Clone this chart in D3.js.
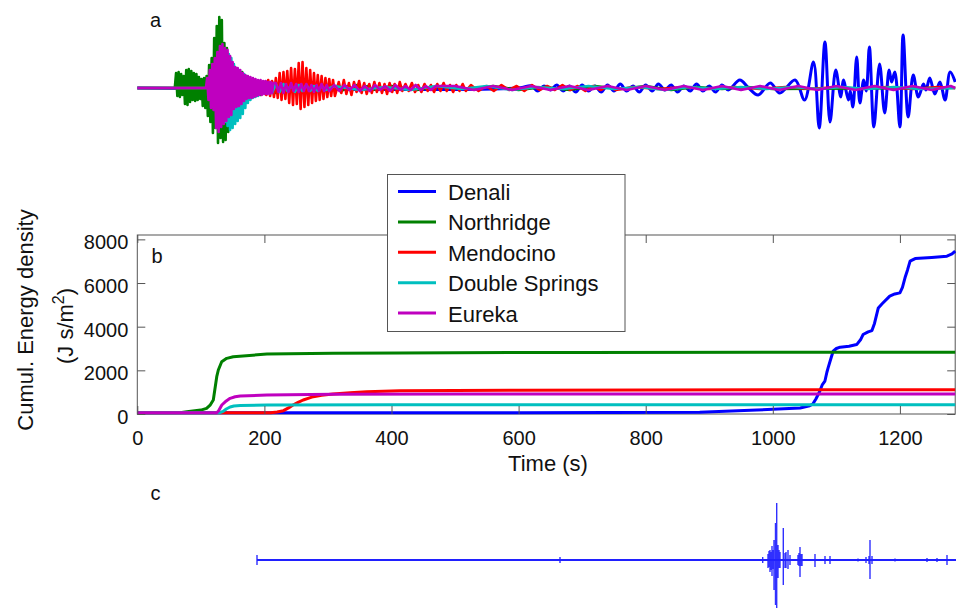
<!DOCTYPE html>
<html><head><meta charset="utf-8">
<script src="https://cdn.jsdelivr.net/npm/d3@7"></script>
<style>body{margin:0;background:#fff}svg{display:block;font-family:"Liberation Sans",Arial,Helvetica,sans-serif}</style>
</head><body><svg id="chart" width="956" height="608"></svg>
<script>
// ---------- data ----------
const seriesNames = ["Denali", "Northridge", "Mendocino", "Double Springs", "Eureka"];
const seriesColors = ["#0000ff", "#008000", "#ff0000", "#00bfbf", "#bf00bf"];
const xTicks = [0, 200, 400, 600, 800, 1000, 1200];
const yTicks = [0, 2000, 4000, 6000, 8000];
const timeMax = 1287;
const energyMax = 8200;

// panel b: cumulative energy density [time s, J s/m^2]
const denaliEnergy = [[0,60],[600,60],[885,80],[975,180],[1000,220],[1043,275],[1058,380],[1063,460],[1068,700],[1074,1050],[1078,1350],[1082,1510],[1085,1900],[1087,2110],[1092,2600],[1095,2875],[1100,3000],[1106,3060],[1120,3100],[1132,3180],[1138,3400],[1142,3640],[1150,3760],[1156,3820],[1160,4150],[1166,4860],[1172,5050],[1184,5400],[1192,5500],[1200,5550],[1204,5800],[1208,6240],[1212,6600],[1216,7000],[1224,7120],[1250,7170],[1274,7230],[1282,7330],[1287,7460]];
const northridgeEnergy = [[0,60],[70,70],[78,107],[100,180],[109,260],[115,420],[119.6,641],[125,1710],[127.5,2015],[132.8,2395],[140.7,2550],[151,2625],[204,2747],[308,2780],[413,2800],[700,2820],[1000,2830],[1287,2830]];
const mendocinoEnergy = [[0,60],[210,60],[220,90],[230,153],[238,280],[245,412],[253,530],[261,641],[270,730],[277,794],[290,860],[308,916],[335,975],[361,1021],[413,1060],[600,1090],[800,1105],[1287,1115]];
const doubleSpringsEnergy = [[0,60],[130,60],[135,120],[140,230],[146,320],[152,365],[162,385],[204,410],[400,420],[1287,428]];
const eurekaEnergy = [[0,60],[125,60],[128,150],[133,412],[140,600],[146,718],[154,790],[162,824],[204,870],[308,900],[500,915],[1287,920]];

// panel a: seismograms. Entries are either [t, amp] or [t0, dt, [amps...]]
const denaliWave = [[0,0],[600,0],
  [620, 10, [2,-3,2,-2,3,-3,2,-4,3,-3,2,-4,3,-3,4,-3,2,-4,3,-3,4,-2,3,-4,2,-3,4,-3,2,-4,3,-2]],
  [948,8],[962,0],[977,-7],[996,5],[1011,-5],[1035,8],[1050,-12],[1064,26],[1073,-40],[1082,46],[1090,-34],[1099,18],[1107,-9],[1111,8],[1119,-12],[1122,-3],[1126,-19],[1132,31],[1137,-15],[1143,8],[1147,-3],[1152,41],[1159,-39],[1168,24],[1176,-25],[1183,18],[1187,6],[1192,16],[1200,-39],[1205,53],[1213,-29],[1221,13],[1229,-9],[1237,4],[1241,-2],[1247,10],[1255,-6],[1263,6],[1271,-12],[1279,16],[1287,6]];
const northridgeWave = [[0,0],[59,0],
  [61, 2, [15,-8,16,-9,14,-7,12,-16,18,-17,19,-14,17,-12,15,-13,14,-12,11,-11,9,-18,10,-20,12,-28,23,-34,30,-45,50,-40,62,-55,71,-50,68,-54,45,-52,40,-44,20,-25,18,-22,19,-24,17,-19,15,-18,16,-17,12,-14,10,-12,9,-8]],
  [182, 4, [7,-6,6,-7,5,-5,6,-4,5,-5,4,-4,5,-3,4,-4]],
  [250, 8, [3,-3,2,-3,3,-2,3,-2,2,-3,2,-2,3,-2,2,-2]],
  [400, 40, [2,-2,2,-1,2,-2,1,-2,2,-1,2,-2,1,-1,1,-1]],
  [1287,0]];
const mendocinoWave = [[0,0],[185,0],
  [188, 3, [3,-4,4,-5,6,-7,8,-8,7,-9,10,-10,15,-12,16,-11,17,-15,20,-17,19,-16,25,-21,26,-19,20,-17,18,-15,15,-13,13,-12,12,-11,10,-9,9,-8,8,-8]],
  [317, 4, [6,-5,8,-6,5,-7,6,-4,7,-5,5,-6,4,-5,6,-4,5,-5,4,-6,5,-4,4,-5,6,-3]],
  [422, 5, [4,-3,5,-4,3,-4,4,-3,3,-4,4,-3,5,-3,3,-4,3,-3,4,-3]],
  [525, 12, [3,-3,2,-3,3,-2,2,-3,3,-2,2,-2,3,-2,2,-3,2,-2,2,-2]],
  [780, 40, [1,-1,1,-1,1,-1,1,-1,1,-1,1,-1,1]],
  [1287,0]];
const doubleSpringsWave = [[0,0],[125,0],
  [128, 2, [8,-12,20,-26,30,-34,32,-38,34,-42,30,-40,24,-36,20,-33,18,-30,15,-26,14,-20,12,-15,10,-12,9,-10,8,-9,7,-8]],
  [194, 6, [6,-5,5,-5,4,-4,4,-3,3,-4,3,-3,3,-3,2,-3,2,-2]],
  [310, 40, [2,-2,1,-2,2,-1,2,-2,1,-1,2,-1,1,-2,1,-1,1,-1,1,-1,1,-1,1,-1]],
  [1287,0]];
const eurekaWave = [[0,0],[108,0],
  [110, 2, [10,-12,18,-20,24,-22,30,-40,36,-44,42,-39,44,-36,40,-33,38,-29,32,-27,26,-21,21,-19,20,-18,18,-16,15,-13,13,-11,12,-10,11,-10,10,-9,9,-8,8,-7,8,-7,7,-6,7,-6,6,-6,6,-5,5]],
  [218, 4, [5,-4,5,-5,4,-4,5,-3,4,-4,4,-3,4,-3,3,-4,3,-3,4,-3,3,-3]],
  [310, 8, [3,-3,3,-2,3,-3,2,-3,3,-2,2,-3,3,-2,2,-2,3,-2,2,-2,2]],
  [500, 30, [2,-2,2,-2,2,-2,2,-2,2,-2,2,-2,2,-2,2,-2,2,-2,2,-2,2,-2,2,-2,2,-2,2]],
  [1287,0]];

// panel c: long Denali record, spikes as [position, up, down]
const denaliLongSpikes = [[0,5,5],[303,3,3],[505.7,3,3],[511,6,8],[512,9,7],[513,10,12],[514,8,10],[515,14,16],[516,10,9],[517,20,30],[518.5,37,45],[519.7,57,50],[521,15,18],[522,10,8],[523,8,8],[526.3,32,25],[528,7,8],[529,8,8],[531,10,9],[533,5,5],[541,5,5],[542,7,6],[543,13,17],[544,6,6],[545,6,6],[558,6,7],[568,4,4],[573,4,4],[601,1.5,1.5],[609,3,3],[612,4,4],[613,20,19],[615,4,4],[638,1.5,1.5],[670,2,2],[680,2,2],[690,5,5]];
const denaliLongEnd = 700;

// ---------- drawing ----------
const energySeries = [denaliEnergy, northridgeEnergy, mendocinoEnergy, doubleSpringsEnergy, eurekaEnergy];
const waveSeries = [denaliWave, northridgeWave, mendocinoWave, doubleSpringsWave, eurekaWave];

function expand(entries) {
  const out = [];
  entries.forEach(e => {
    if (e.length === 3 && Array.isArray(e[2])) e[2].forEach((v, i) => out.push([e[0] + i * e[1], v]));
    else out.push(e);
  });
  return out;
}

const svg = d3.select("#chart");
svg.append("rect").attr("width", 956).attr("height", 608).attr("fill", "#fff");

const L = 137.3, R = 955.2, T = 235, B = 414;
const x = d3.scaleLinear().domain([0, timeMax]).range([L, R]);
const yE = d3.scaleLinear().domain([0, energyMax]).range([B, T]);
const yA = d3.scaleLinear().domain([-80, 80]).range([168, 8]);
const xC = d3.scaleLinear().domain([0, 700]).range([257, 957]);
const yC = d3.scaleLinear().domain([-60, 60]).range([620, 500]);

const txt = "#111";
// panel labels
svg.append("text").attr("x", 150).attr("y", 27).attr("font-size", 20).attr("fill", txt).text("a");
svg.append("text").attr("x", 151.5).attr("y", 263).attr("font-size", 20).attr("fill", txt).text("b");
svg.append("text").attr("x", 150.5).attr("y", 500).attr("font-size", 20).attr("fill", txt).text("c");

// panel a
const gA = svg.append("g");
waveSeries.forEach((w, i) => {
  const ln = d3.line().x(d => x(d[0])).y(d => yA(d[1])).curve(i === 0 ? d3.curveCatmullRom : d3.curveLinear);
  gA.append("path").attr("d", ln(expand(w)))
    .attr("fill", "none").attr("stroke", seriesColors[i]).attr("stroke-width", i === 0 ? 3 : 2.6).attr("stroke-linejoin", "round");
});

// panel b axes box
const gB = svg.append("g");
const axColor = "#555";
gB.append("rect").attr("x", L).attr("y", T).attr("width", R - L).attr("height", B - T)
  .attr("fill", "none").attr("stroke", axColor).attr("stroke-width", 1);

const energyLine = d3.line().x(d => x(d[0])).y(d => yE(d[1]));
energySeries.forEach((s, i) => {
  gB.append("path").attr("d", energyLine(s)).attr("fill", "none")
    .attr("stroke", seriesColors[i]).attr("stroke-width", 3).attr("stroke-linejoin", "round");
});

// axes with inward ticks on all four sides
const axB = gB.append("g").attr("transform", `translate(0,${B})`)
  .call(d3.axisBottom(x).tickValues(xTicks).tickSizeInner(-8).tickSizeOuter(0).tickFormat(d3.format("d")));
const axT = gB.append("g").attr("transform", `translate(0,${T})`)
  .call(d3.axisTop(x).tickValues(xTicks).tickSizeInner(-8).tickSizeOuter(0).tickFormat(""));
const axL = gB.append("g").attr("transform", `translate(${L},0)`)
  .call(d3.axisLeft(yE).tickValues(yTicks).tickSizeInner(-8).tickSizeOuter(0).tickPadding(9).tickFormat(d3.format("d")));
const axR = gB.append("g").attr("transform", `translate(${R},0)`)
  .call(d3.axisRight(yE).tickValues(yTicks).tickSizeInner(-8).tickSizeOuter(0).tickFormat(""));
[axB, axT, axL, axR].forEach(a => {
  a.select(".domain").remove();
  a.selectAll(".tick line").attr("stroke", axColor);
  a.selectAll("text").attr("font-size", 20).attr("fill", txt).attr("font-family", "Liberation Sans, Arial, sans-serif");
});
axB.selectAll("text").attr("dy", null).attr("y", 31);
axL.selectAll("text").attr("dy", null).attr("y", 9.5);

// axis labels
svg.append("text").attr("x", 548).attr("y", 471).attr("text-anchor", "middle").attr("font-size", 22).attr("fill", txt).text("Time (s)");
svg.append("text").attr("transform", "translate(33,320) rotate(-90)").attr("text-anchor", "middle")
  .attr("font-size", 22).attr("fill", txt).text("Cumul. Energy density");
const yl2 = svg.append("text").attr("transform", "translate(73,326) rotate(-90)").attr("text-anchor", "middle")
  .attr("font-size", 22).attr("fill", txt);
yl2.append("tspan").text("(J s/m");
yl2.append("tspan").attr("dy", -9).attr("font-size", 16).text("2");
yl2.append("tspan").attr("dy", 9).text(")");

// legend
const lg = svg.append("g");
lg.append("rect").attr("x", 387.5).attr("y", 174.5).attr("width", 237.5).attr("height", 157)
  .attr("fill", "#fff").attr("stroke", "#555").attr("stroke-width", 1);
seriesNames.forEach((n, i) => {
  const yy = 191.5 + i * 30.4;
  lg.append("line").attr("x1", 398).attr("x2", 436).attr("y1", yy).attr("y2", yy)
    .attr("stroke", seriesColors[i]).attr("stroke-width", 3);
  lg.append("text").attr("x", 448).attr("y", yy + 8.5).attr("font-size", 22).attr("fill", txt).text(n);
});

// panel c: baseline with vertical spikes
const cPts = [];
denaliLongSpikes.forEach(s => { cPts.push([s[0], 0], [s[0], s[1]], [s[0], -s[2]], [s[0], 0]); });
cPts.push([denaliLongEnd, 0]);
const cLine = d3.line().x(d => xC(d[0])).y(d => yC(d[1]));
svg.append("path").attr("d", cLine(cPts)).attr("fill", "none")
  .attr("stroke", "#3030ff").attr("stroke-width", 1.4);
svg.append("line").attr("x1", xC(0)).attr("x2", xC(denaliLongEnd)).attr("y1", yC(0)).attr("y2", yC(0))
  .attr("stroke", "#2020ff").attr("stroke-width", 2);
</script></body></html>
